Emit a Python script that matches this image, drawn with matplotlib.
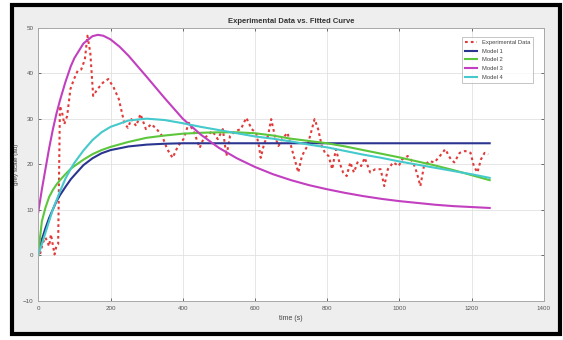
import matplotlib
matplotlib.use("Agg")
import matplotlib.pyplot as plt
from matplotlib.patches import Rectangle

plt.rcParams['font.family'] = ['Liberation Sans', 'DejaVu Sans']

# Experimental data (time s, grey scale au)
exp_t = [5, 13, 20, 30, 35, 45, 50, 55, 60, 66, 72, 80, 89, 99, 109, 119, 129, 136, 144, 152,
         164, 179, 194, 209, 223, 238, 248, 258, 271, 283, 298, 313, 328, 343, 357, 372, 387,
         402, 417, 432, 447, 457, 467, 482, 497, 511, 521, 531, 546, 561, 576, 591, 603, 611,
         616, 626, 636, 645, 655, 665, 675, 690, 705, 720, 730, 745, 755, 765, 775, 785, 794,
         804, 814, 824, 834, 844, 854, 864, 874, 884, 894, 904, 919, 933, 948, 958, 968, 983,
         998, 1008, 1023, 1038, 1048, 1058, 1068, 1082, 1097, 1112, 1127, 1142, 1152, 1167,
         1182, 1197, 1206, 1216, 1226, 1236, 1246]
exp_v = [0.3, 2.8, 3.9, 2.0, 4.6, 0.2, 2.0, 2.4, 32.8, 31.3, 28.8, 30.6, 36.5, 38.7, 40.5, 40.8,
         43.0, 48.2, 44.5, 35.0, 36.5, 37.9, 38.7, 36.8, 34.3, 29.1, 28.0, 29.9, 28.4, 31.0,
         27.7, 28.8, 27.7, 26.2, 23.3, 21.4, 24.0, 25.5, 29.1, 26.9, 23.6, 25.5, 26.2, 27.3,
         25.5, 27.7, 21.8, 26.2, 27.3, 27.7, 30.2, 27.7, 26.9, 24.0, 21.4, 24.7, 26.2, 29.9,
         26.2, 24.0, 25.5, 26.9, 22.5, 18.2, 21.8, 24.0, 26.9, 29.9, 27.7, 24.0, 22.5, 21.8,
         18.9, 23.3, 20.4, 18.2, 17.4, 20.4, 18.2, 20.4, 19.6, 21.4, 18.2, 18.9, 18.9, 15.2,
         18.9, 20.4, 19.6, 21.1, 21.8, 20.4, 18.2, 15.2, 19.6, 20.7, 20.4, 21.8, 23.3, 21.1,
         20.4, 22.5, 22.9, 22.5, 19.6, 18.2, 21.1, 22.5, 22.2]

# Model curves
m1_t = [0, 10, 20, 30, 40, 50, 60, 75, 90, 100, 125, 150, 175, 200, 250, 300, 350, 400, 600, 800, 1000, 1250]
m1_v = [0.5, 3.5, 6.0, 8.2, 10.0, 11.8, 13.2, 15.0, 16.7, 17.6, 19.8, 21.3, 22.4, 23.1, 23.9, 24.3, 24.5, 24.6, 24.6, 24.6, 24.6, 24.6]

m2_t = [0, 5, 10, 20, 30, 40, 50, 60, 75, 90, 100, 125, 150, 175, 200, 250, 300, 350, 400, 450, 500, 550,
        600, 650, 700, 750, 800, 850, 900, 950, 1000, 1050, 1100, 1150, 1200, 1250]
m2_v = [0.0, 4.0, 7.5, 10.5, 12.8, 14.3, 15.5, 16.5, 17.8, 19.0, 19.6, 21.0, 22.2, 23.1, 23.8, 24.9, 25.8,
        26.3, 26.7, 26.9, 27.0, 27.0, 26.8, 26.3, 25.6, 25.1, 24.6, 23.9, 23.1, 22.3, 21.5, 20.6, 19.7,
        18.7, 17.6, 16.5]

m3_t = [0, 10, 20, 30, 40, 50, 60, 75, 90, 100, 125, 150, 165, 180, 200, 225, 250, 275, 300, 350, 400,
        450, 500, 550, 600, 650, 700, 750, 800, 850, 900, 950, 1000, 1050, 1100, 1150, 1200, 1250]
m3_v = [9.5, 14.5, 19.0, 23.5, 27.5, 31.0, 34.0, 38.0, 41.5, 43.3, 46.5, 48.1, 48.4, 48.2, 47.4, 45.8,
        43.8, 41.5, 39.2, 34.5, 30.0, 26.5, 23.6, 21.3, 19.4, 17.8, 16.5, 15.4, 14.5, 13.7, 13.0, 12.4,
        11.9, 11.5, 11.1, 10.8, 10.6, 10.4]

m4_t = [0, 10, 20, 30, 40, 50, 60, 75, 90, 100, 125, 150, 175, 200, 250, 300, 350, 400, 450, 500, 550,
        600, 650, 700, 750, 800, 850, 900, 950, 1000, 1050, 1100, 1150, 1200, 1250]
m4_v = [0.0, 2.5, 5.0, 7.5, 10.0, 12.0, 14.0, 16.8, 19.0, 20.3, 23.0, 25.3, 27.0, 28.2, 29.6, 30.0,
        29.7, 29.0, 28.2, 27.5, 26.8, 26.1, 25.6, 25.0, 24.3, 23.7, 22.9, 22.1, 21.4, 20.6, 19.9, 19.2,
        18.5, 17.8, 17.0]

labels = ['Experimental Data', 'Model 1', 'Model 2', 'Model 3', 'Model 4']
colors = ['#e03a3a', '#2b3590', '#5cc63c', '#c23fc0', '#45c9cc']
x_ticks = [0, 200, 400, 600, 800, 1000, 1200, 1400]
y_ticks = [-10, 0, 10, 20, 30, 40, 50]

fig = plt.figure(figsize=(5.63, 3.40), dpi=100, facecolor='white')
fig.patches.append(Rectangle((0.022, 0.018), 0.972, 0.966, transform=fig.transFigure,
                             facecolor='#eeeeee', edgecolor='black', linewidth=3, zorder=-10))
ax = fig.add_axes([0.068, 0.115, 0.898, 0.804])
ax.set_facecolor('white')

ax.plot(exp_t, exp_v, color=colors[0], linestyle=(0, (1.3, 1.5)), linewidth=1.5,
        label=labels[0])
ax.plot(m1_t, m1_v, color=colors[1], linewidth=1.5, label=labels[1])
ax.plot(m2_t, m2_v, color=colors[2], linewidth=1.5, label=labels[2])
ax.plot(m3_t, m3_v, color=colors[3], linewidth=1.5, label=labels[3])
ax.plot(m4_t, m4_v, color=colors[4], linewidth=1.5, label=labels[4])

ax.set_xlim(0, 1400)
ax.set_ylim(-10, 50)
ax.set_xticks(x_ticks)
ax.set_yticks(y_ticks)
ax.tick_params(direction='in', length=2.5, width=0.6, labelsize=4.5, colors='#555555',
               top=True, right=True)
ax.grid(True, color='#e2e2e2', linewidth=0.6)
for s in ax.spines.values():
    s.set_color('#a8a8a8')
    s.set_linewidth(0.7)

ax.set_title('Experimental Data vs. Fitted Curve', fontsize=5.5, fontweight='bold', color='#333333', pad=3)
ax.set_xlabel('time (s)', fontsize=5, color='#444444', labelpad=3)
ax.set_ylabel('grey scale (au)', fontsize=4.5, color='#444444', labelpad=3)

leg = ax.legend(loc='upper right', fontsize=4.2, frameon=True, handlelength=2.2,
                borderpad=0.5, labelspacing=0.6, fancybox=False, bbox_to_anchor=(0.985, 0.975))
leg.get_frame().set_edgecolor('#aaaaaa')
leg.get_frame().set_linewidth(0.6)
for t in leg.get_texts():
    t.set_color('#444444')

fig.savefig('out.png', dpi=100, facecolor=fig.get_facecolor())
